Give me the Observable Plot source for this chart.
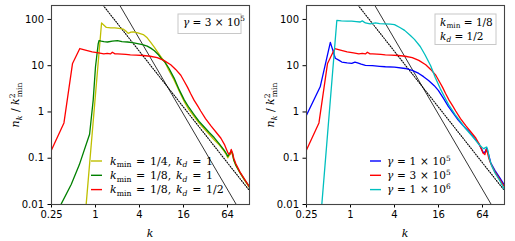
<!DOCTYPE html>
<html><head><meta charset="utf-8">
<script src="https://cdn.jsdelivr.net/npm/d3@7"></script>
<script src="https://cdn.jsdelivr.net/npm/@observablehq/plot@0.6"></script>
<style>
body{margin:0;background:#fff;}
#wrap{position:relative;width:515px;height:241px;overflow:hidden;}
#left{position:absolute;left:0;top:0;}
#right{position:absolute;left:255px;top:0;}
</style></head><body><div id="wrap"><div id="left"></div><div id="right"></div></div>
<script>
// ---- tick values and labels ----
const xTicks = [0.25, 1, 4, 16, 64];
const xTickLabels = ["0.25", "1", "4", "16", "64"];
const yTicks = [0.01, 0.1, 1, 10, 100];
const yTickLabels = ["0.01", "0.1", "1", "10", "100"];

// ---- left panel: k_min = 1/4, k_d = 1 (yellow) ----
const yellowK = [0.745, 1.21, 1.41, 1.62, 1.84, 2.1, 2.39, 2.6, 2.8, 3.05, 3.28, 3.8, 4.5, 5.1, 5.7, 6.4, 7.2, 8.0, 8.9, 10, 11.9, 14, 16.3, 19, 22.3, 26, 30.5, 36, 42, 50, 57.5, 62, 64.5, 68, 72, 75, 78, 83, 95, 110, 128];
const yellowN = [0.01, 84, 67, 66, 66, 64, 62, 56, 50, 53, 54, 51, 47, 40, 32, 25, 19, 15, 12, 8.2, 4.9, 2.8, 1.7, 1.12, 0.8, 0.58, 0.44, 0.33, 0.25, 0.19, 0.142, 0.118, 0.102, 0.118, 0.138, 0.118, 0.09, 0.07, 0.048, 0.033, 0.023];
// ---- left panel: k_min = 1/8, k_d = 1 (green) ----
const greenK = [0.34, 0.465, 0.6, 0.83, 0.93, 1.0, 1.09, 1.12, 1.2, 1.3, 1.46, 1.7, 2.0, 2.3, 2.74, 3.2, 3.76, 4.4, 5.1, 5.7, 6.4, 7.2, 7.9, 8.9, 10.1, 11.9, 14, 16.3, 19, 22.3, 26, 30.5, 36, 42, 50, 57.5, 62, 64.5, 68, 72, 75, 78, 83, 95, 110, 128];
const greenN = [0.0103, 0.027, 0.072, 0.33, 1.8, 9.5, 30, 35, 34, 33, 32.5, 34, 35, 33, 32.5, 31.5, 30, 28.5, 26.5, 24, 21, 17.5, 14.5, 12, 8.8, 5.4, 3.0, 1.85, 1.25, 0.88, 0.63, 0.48, 0.36, 0.28, 0.2, 0.15, 0.125, 0.11, 0.125, 0.145, 0.125, 0.092, 0.072, 0.049, 0.034, 0.024];
// ---- k_min = 1/8, k_d = 1/2, gamma = 3e5 (red, both panels) ----
const redK = [0.25, 0.37, 0.485, 0.61, 0.75, 0.9, 1.1, 1.3, 1.45, 1.6, 1.7, 1.85, 2.0, 2.3, 2.6, 3.0, 3.6, 4.5, 5.6, 7.0, 8.6, 10.7, 12.5, 14.7, 16.5, 18.2, 20, 22.3, 25, 27.5, 32, 38, 45, 52, 58, 62, 65, 69, 72, 75, 78, 83, 95, 110, 128];
const redN = [0.15, 0.58, 11.2, 23.5, 21.5, 20, 19, 18, 18.5, 18, 19.5, 18, 18, 17.8, 17.5, 17.2, 17, 16.6, 16, 15, 13, 10.5, 8.3, 6.2, 4.5, 3.4, 2.5, 1.8, 1.35, 1.05, 0.72, 0.5, 0.36, 0.27, 0.2, 0.155, 0.13, 0.12, 0.155, 0.13, 0.1, 0.077, 0.05, 0.035, 0.024];
// ---- right panel: gamma = 1e5 (blue) ----
const blueK = [0.25, 0.385, 0.53, 0.62, 0.7, 0.76, 0.9, 1.04, 1.15, 1.25, 1.4, 1.6, 2, 2.5, 3, 4, 5.6, 7, 8.6, 10, 11.7, 14, 16, 19, 21.9, 26, 30, 35, 41, 48, 56.5, 62, 66, 70, 73, 77, 83, 95, 110, 128];
const blueN = [0.85, 3.5, 32, 14.5, 13, 12, 11.5, 11.2, 12, 11.5, 10.8, 10.2, 10, 9.7, 9.5, 9.3, 8.7, 7.9, 6.8, 5.8, 4.8, 3.7, 2.9, 1.9, 1.3, 0.9, 0.66, 0.5, 0.39, 0.29, 0.21, 0.16, 0.13, 0.14, 0.165, 0.125, 0.08, 0.054, 0.038, 0.026];
// ---- right panel: gamma = 1e6 (cyan) ----
const cyanK = [0.405, 0.65, 0.75, 0.9, 1.04, 1.2, 1.36, 1.45, 1.6, 1.86, 2.2, 2.5, 2.94, 3.5, 4, 4.8, 5.5, 6.6, 7.5, 9, 10.5, 12.5, 14.5, 16.9, 19.7, 22, 27, 32, 37, 44, 50, 57, 63, 67, 70, 73, 76, 80, 85, 95, 110, 128];
const cyanN = [0.01, 95, 93, 92, 92, 90, 88, 93, 84, 80, 84, 81, 80, 79, 77, 66, 58, 45, 37, 26, 17, 10, 5.5, 3.2, 2.0, 1.45, 0.88, 0.62, 0.45, 0.33, 0.26, 0.2, 0.17, 0.16, 0.17, 0.175, 0.145, 0.095, 0.07, 0.048, 0.033, 0.021];
// ---- reference power laws (end points) ----
const dottedK = [1.2, 128];
const dottedN = [226, 0.0199];
const solidK = [2.0, 90];
const solidN = [245, 0.0084];

const rows = (K, N) => K.map((k, i) => ({k, n: N[i]}));

function mathText(g, x, y, parts, opts = {}) {
  const fs = opts.fontSize || 10.5;
  const t = g.append("text").attr("x", x).attr("y", y)
    .attr("font-family", "'DejaVu Serif', serif").attr("font-size", fs)
    .attr("fill", "black").attr("text-anchor", opts.anchor || "start");
  if (opts.transform) t.attr("transform", opts.transform);
  if (opts.wordSpacing) t.attr("word-spacing", opts.wordSpacing);
  let shift = 0;
  for (const [s, st, dx] of parts) {
    const ts = t.append("tspan").text(s);
    let target = 0;
    if (st === "i") ts.attr("font-style", "italic");
    if (st === "sub" || st === "subi") { target = fs * 0.24; ts.attr("font-size", fs * 0.7); if (st === "subi") ts.attr("font-style", "italic"); }
    if (st === "sup") { target = -fs * 0.4; ts.attr("font-size", fs * 0.7); }
    if (target - shift !== 0) ts.attr("dy", target - shift);
    if (dx) ts.attr("dx", dx);
    shift = target;
  }
  return t;
}

function panel(el, series, legend, boxLines, box, marginRight, width) {
  const fmtX = d => xTickLabels[xTicks.findIndex(t => Math.abs(t - d) < 1e-9)];
  const fmtY = d => yTickLabels[yTicks.findIndex(t => Math.abs(t - d) / t < 1e-6)];
  const marks = [
    Plot.line(rows(dottedK, dottedN), {x: "k", y: "n", stroke: "black", strokeWidth: 1.1, strokeDasharray: "1,1.6", clip: true}),
    Plot.line(rows(solidK, solidN), {x: "k", y: "n", stroke: "black", strokeWidth: 0.8, clip: true}),
    ...series.map(s => Plot.line(rows(s.K, s.N), {x: "k", y: "n", stroke: s.color, strokeWidth: 1.3, clip: true})),
    Plot.frame({stroke: "#444", strokeWidth: 1.1})
  ];
  const p = Plot.plot({
    width, height: 241, marginLeft: 51, marginRight, marginTop: 5, marginBottom: 37,
    style: {fontFamily: "'DejaVu Sans', sans-serif", fontSize: "10px", background: "white", overflow: "visible"},
    x: {type: "log", base: 4, domain: [0.25, 128], ticks: xTicks, tickFormat: fmtX, label: null, tickSize: 3.5, tickPadding: 3},
    y: {type: "log", domain: [0.01, 200], ticks: yTicks, tickFormat: fmtY, label: null, tickSize: 3.5, tickPadding: 4},
    marks
  });
  el.appendChild(p);
  const svg = d3.select(p);
  const g = svg.append("g");
  // axis titles
  mathText(g, 150, 237, [["k", "i"]], {anchor: "middle", fontSize: 11});
  mathText(g, 0, 0, [["n", "i"], ["k", "subi"], [" / ", "r"], ["k", "i"], ["2", "sup"], ["min", "sub", -4]],
    {anchor: "middle", fontSize: 11, transform: "translate(19,105) rotate(-90)"});
  // legend
  legend.rows.forEach((row, i) => {
    const y = 161 + i * 14.3;
    g.append("line").attr("x1", legend.x0).attr("x2", legend.x0 + 11).attr("y1", y).attr("y2", y)
      .attr("stroke", row.color).attr("stroke-width", 1.4);
    mathText(g, legend.x0 + legend.dx, y + 3.8, row.parts, {fontSize: legend.fs, wordSpacing: legend.ws});
  });
  // info box
  g.append("rect").attr("x", box[0]).attr("y", box[1]).attr("width", box[2]).attr("height", box[3])
    .attr("fill", "white").attr("stroke", "#c8c8c8").attr("stroke-width", 1);
  boxLines.forEach((parts, i) => mathText(g, box[0] + 5, box[1] + 11.5 + i * 14, parts, {fontSize: 10.5}));
}

panel(document.getElementById("left"),
  [{K: yellowK, N: yellowN, color: "#bfbf00"}, {K: greenK, N: greenN, color: "#008000"}, {K: redK, N: redN, color: "#ff0000"}],
  {x0: 91, dx: 19, ws: 1.2, fs: 11, rows: [
    {color: "#bfbf00", parts: [["k", "i"], ["min", "sub"], [" = 1/4, ", "r"], ["k", "i"], ["d", "subi"], [" = 1", "r"]]},
    {color: "#008000", parts: [["k", "i"], ["min", "sub"], [" = 1/8, ", "r"], ["k", "i"], ["d", "subi"], [" = 1", "r"]]},
    {color: "#ff0000", parts: [["k", "i"], ["min", "sub"], [" = 1/8, ", "r"], ["k", "i"], ["d", "subi"], [" = 1/2", "r"]]}
  ]},
  [[["γ", "i"], [" = 3 × 10", "r"], ["5", "sup"]]],
  [178, 14, 63, 19.5], 6, 255);

panel(document.getElementById("right"),
  [{K: blueK, N: blueN, color: "#0000ff"}, {K: redK, N: redN, color: "#ff0000"}, {K: cyanK, N: cyanN, color: "#00bfbf"}],
  {x0: 115, dx: 17, ws: 0.4, fs: 10.5, rows: [
    {color: "#0000ff", parts: [["γ", "i"], [" = 1 × 10", "r"], ["5", "sup"]]},
    {color: "#ff0000", parts: [["γ", "i"], [" = 3 × 10", "r"], ["5", "sup"]]},
    {color: "#00bfbf", parts: [["γ", "i"], [" = 1 × 10", "r"], ["6", "sup"]]}
  ]},
  [[["k", "i"], ["min", "sub"], [" = 1/8", "r"]], [["k", "i"], ["d", "subi"], [" = 1/2", "r"]]],
  [180, 14, 61, 30.5], 11, 260);
</script></body></html>
